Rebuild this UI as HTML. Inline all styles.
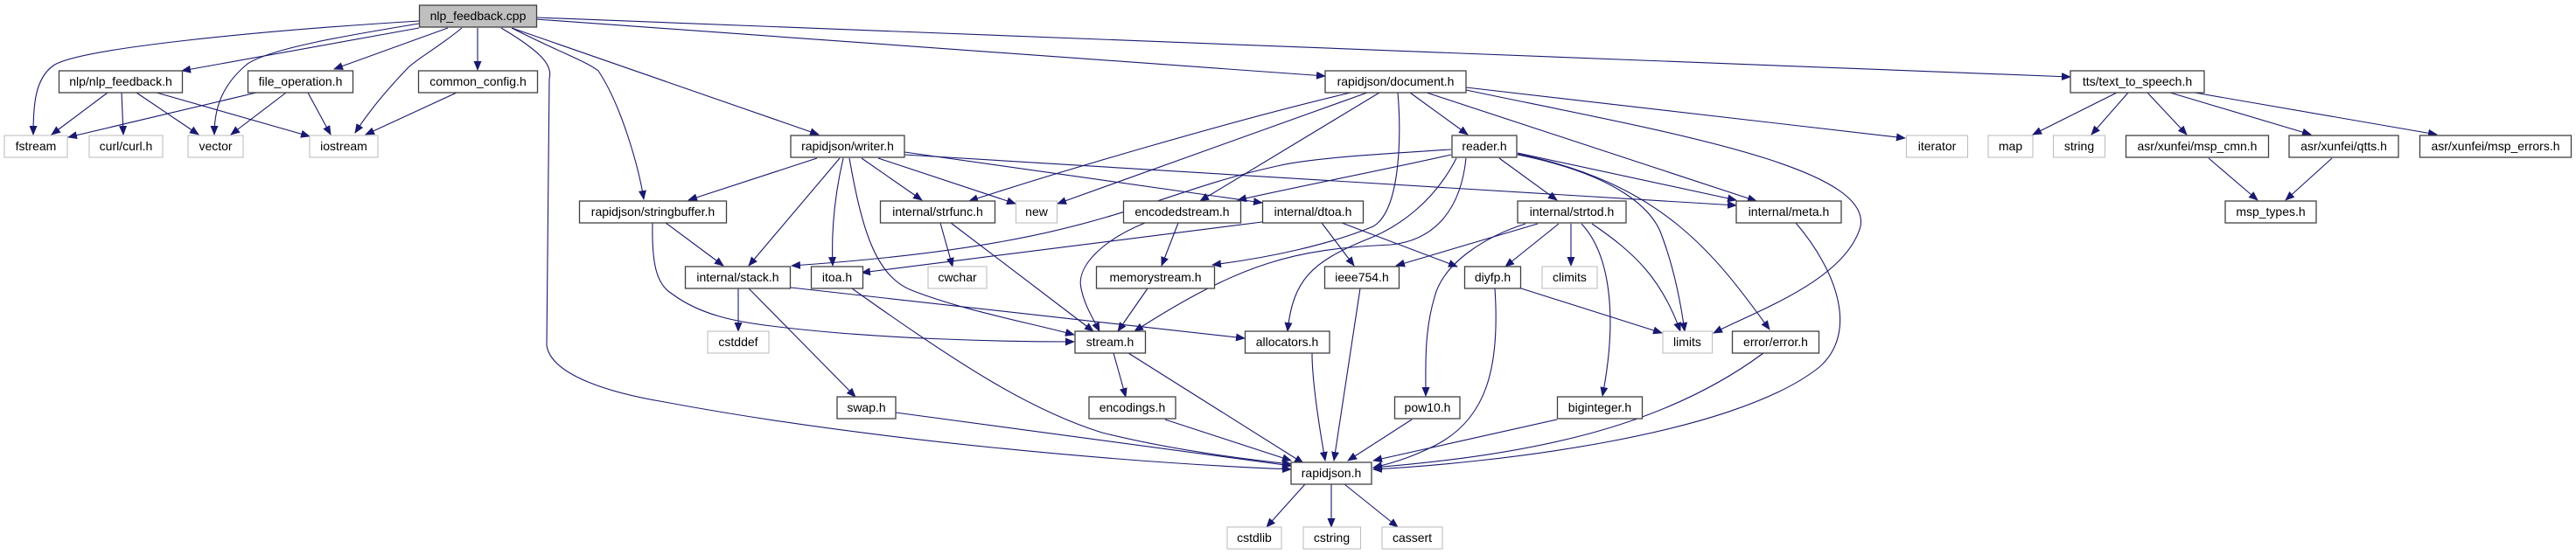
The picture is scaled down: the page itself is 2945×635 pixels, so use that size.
<!DOCTYPE html>
<html><head><meta charset="utf-8"><style>
html,body{margin:0;padding:0;background:#fff;}
svg{display:block;}
text{font-family:"Liberation Sans",sans-serif;font-size:14px;fill:#000;text-anchor:middle;}
.e{fill:none;stroke:#191970;stroke-width:1.1;marker-end:url(#a);}
.b{fill:#fff;stroke:#404040;stroke-width:1.3;}
.g{fill:#fff;stroke:#bfbfbf;stroke-width:1.1;}
</style></head><body>
<svg width="2945" height="635" viewBox="0 0 2945 635" xmlns="http://www.w3.org/2000/svg">
<defs><marker id="a" markerWidth="11" markerHeight="9" refX="10" refY="4.5" orient="auto" markerUnits="userSpaceOnUse"><path d="M0,0 L11,4.5 L0,9 z" fill="#191970"/></marker></defs>

<!-- edges from nlp_feedback.cpp -->
<path class="e" d="M479,24 C300,35 90,55 61,75 C40,90 38,120 38,154"/>
<path class="e" d="M479,32 L208,81"/>
<path class="e" d="M479,27 C400,40 310,55 283,73 C250,100 245,130 245,154"/>
<path class="e" d="M512,32 L382,79"/>
<path class="e" d="M528,32 C500,55 480,65 467,77 C440,105 420,130 406,152"/>
<path class="e" d="M546,32 L546,80"/>
<path class="e" d="M573,32 C620,60 632,75 628,90 L625,395 C630,430 700,450 760,460 C1000,505 1300,530 1476,537"/>
<path class="e" d="M585,32 C640,60 670,70 684,81 C710,120 730,190 736,228"/>
<path class="e" d="M585,32 L936,154"/>
<path class="e" d="M613,22 L1515,87"/>
<path class="e" d="M613,20 L2367,88"/>

<!-- nlp/nlp_feedback.h, file_operation.h, common_config.h -->
<path class="e" d="M123,106 L59,154"/>
<path class="e" d="M139,106 L141,154"/>
<path class="e" d="M156,106 L227,154"/>
<path class="e" d="M179,106 L354,156"/>
<path class="e" d="M293,106 L78,157"/>
<path class="e" d="M327,106 L264,154"/>
<path class="e" d="M352,106 L378,154"/>
<path class="e" d="M522,106 L418,154"/>

<!-- writer.h -->
<path class="e" d="M934,181 L787,229"/>
<path class="e" d="M960,181 L856,304"/>
<path class="e" d="M964,181 C955,220 950,260 952,304"/>
<path class="e" d="M971,181 C985,260 1000,315 1042,332 C1100,355 1180,370 1228,383"/>
<path class="e" d="M985,181 L1054,229"/>
<path class="e" d="M1004,181 L1161,233"/>
<path class="e" d="M1034,177 L1985,235"/>
<path class="e" d="M1034,174 L1443,232"/>

<!-- document.h -->
<path class="e" d="M1612,106 L1678,154"/>
<path class="e" d="M1631,106 L2008,230"/>
<path class="e" d="M1676,103 C1900,150 2140,190 2127,259 C2110,320 2010,355 1959,381"/>
<path class="e" d="M1676,100 L2178,158"/>
<path class="e" d="M1577,106 L1372,230"/>
<path class="e" d="M1563,106 L1209,233"/>
<path class="e" d="M1544,106 C1400,140 1200,200 1108,230"/>
<path class="e" d="M1598,106 C1602,150 1602,240 1570,259 C1520,280 1450,295 1386,303"/>

<!-- reader.h -->
<path class="e" d="M1714,181 L1780,229"/>
<path class="e" d="M1735,175 L1985,229"/>
<path class="e" d="M1735,177 C1850,200 1890,240 1900,270 C1915,310 1922,350 1926,379"/>
<path class="e" d="M1735,176 C1900,210 1960,290 2023,377"/>
<path class="e" d="M1659,171 C1600,175 1500,180 1460,190 C1300,225 1260,280 905,304"/>
<path class="e" d="M1659,177 C1580,195 1480,214 1415,229"/>
<path class="e" d="M1665,181 C1640,230 1600,260 1560,275 C1500,300 1478,320 1472,379"/>
<path class="e" d="M1676,181 C1670,240 1640,275 1590,280 C1480,285 1420,300 1297,379"/>

<!-- dtoa / strtod -->
<path class="e" d="M1511,255 L1548,304"/>
<path class="e" d="M1534,255 L1666,305"/>
<path class="e" d="M1443,254 L985,312"/>
<path class="e" d="M1758,256 L1596,304"/>
<path class="e" d="M1782,256 L1721,305"/>
<path class="e" d="M1796,256 L1796,304"/>
<path class="e" d="M1744,256 C1700,270 1650,300 1640,340 C1628,380 1630,420 1630,453"/>
<path class="e" d="M1808,256 C1840,290 1850,360 1832,453"/>
<path class="e" d="M1820,256 C1870,290 1900,320 1921,379"/>

<!-- to rapidjson.h -->
<path class="e" d="M2053,255 C2100,310 2125,380 2080,420 C1980,500 1700,530 1570,537"/>
<path class="e" d="M2016,404 C1900,490 1750,520 1570,535"/>
<path class="e" d="M1780,480 L1570,527"/>
<path class="e" d="M1709,330 C1715,420 1700,480 1640,510 C1620,520 1600,528 1570,535"/>
<path class="e" d="M1739,330 L1900,381"/>
<path class="e" d="M1614,480 L1541,527"/>
<path class="e" d="M1555,330 L1525,527"/>
<path class="e" d="M1500,404 C1500,430 1505,470 1515,527"/>
<path class="e" d="M1290,404 L1490,530"/>
<path class="e" d="M1273,404 L1287,454"/>
<path class="e" d="M1332,480 L1476,527"/>
<path class="e" d="M1024,472 L1476,533"/>
<path class="e" d="M974,330 C1100,420 1180,470 1260,495 C1340,515 1420,525 1476,531"/>

<!-- stack / stringbuffer / strfunc / encodedstream / memorystream -->
<path class="e" d="M844,330 L844,379"/>
<path class="e" d="M856,330 L978,454"/>
<path class="e" d="M904,329 L1423,387"/>
<path class="e" d="M761,255 L827,304"/>
<path class="e" d="M746,255 C745,300 750,325 768,336 C800,360 840,368 882,373 C1000,388 1150,391 1228,391"/>
<path class="e" d="M1075,255 L1089,305"/>
<path class="e" d="M1087,255 L1250,379"/>
<path class="e" d="M1309,255 C1260,275 1230,305 1236,330 C1240,350 1250,365 1257,379"/>
<path class="e" d="M1347,255 L1328,304"/>
<path class="e" d="M1312,330 L1278,379"/>

<!-- rapidjson.h children -->
<path class="e" d="M1492,554 L1448,603"/>
<path class="e" d="M1522,554 L1522,603"/>
<path class="e" d="M1537,554 L1598,603"/>

<!-- tts -->
<path class="e" d="M2420,106 L2324,154"/>
<path class="e" d="M2433,106 L2391,154"/>
<path class="e" d="M2455,106 L2500,154"/>
<path class="e" d="M2481,106 L2642,154"/>
<path class="e" d="M2509,106 L2786,154"/>
<path class="e" d="M2525,181 L2581,229"/>
<path class="e" d="M2666,181 L2613,229"/>

<!-- nodes -->
<rect x="479.5" y="6" width="134" height="25" fill="#bfbfbf" stroke="#404040" stroke-width="1.3"/><text x="546.5" y="23">nlp_feedback.cpp</text>

<rect class="b" x="67.5" y="81" width="141" height="25"/><text x="138" y="98">nlp/nlp_feedback.h</text>
<rect class="b" x="283.5" y="81" width="120" height="25"/><text x="343.5" y="98">file_operation.h</text>
<rect class="b" x="478.5" y="81" width="136" height="25"/><text x="546.5" y="98">common_config.h</text>
<rect class="b" x="1515" y="81" width="161" height="25"/><text x="1595.5" y="98">rapidjson/document.h</text>
<rect class="b" x="2367" y="81" width="153" height="25"/><text x="2443.5" y="98">tts/text_to_speech.h</text>

<rect class="g" x="5" y="155" width="72" height="25"/><text x="41" y="172">fstream</text>
<rect class="g" x="102" y="155" width="84" height="25"/><text x="144" y="172">curl/curl.h</text>
<rect class="g" x="215" y="155" width="63" height="25"/><text x="246.5" y="172">vector</text>
<rect class="g" x="354" y="155" width="78" height="25"/><text x="393" y="172">iostream</text>
<rect class="b" x="904" y="155" width="130" height="25"/><text x="969" y="172">rapidjson/writer.h</text>
<rect class="b" x="1660" y="155" width="74" height="25"/><text x="1697" y="172">reader.h</text>
<rect class="g" x="2179.5" y="155" width="70" height="25"/><text x="2214.5" y="172">iterator</text>
<rect class="g" x="2273" y="155" width="51" height="25"/><text x="2298.5" y="172">map</text>
<rect class="g" x="2347.5" y="155" width="59" height="25"/><text x="2377" y="172">string</text>
<rect class="b" x="2430.5" y="155" width="163" height="25"/><text x="2512" y="172">asr/xunfei/msp_cmn.h</text>
<rect class="b" x="2617" y="155" width="125" height="25"/><text x="2679.5" y="172">asr/xunfei/qtts.h</text>
<rect class="b" x="2766.5" y="155" width="173" height="25"/><text x="2853" y="172">asr/xunfei/msp_errors.h</text>

<rect class="b" x="662.5" y="230" width="168" height="25"/><text x="746.5" y="247">rapidjson/stringbuffer.h</text>
<rect class="b" x="1006.5" y="230" width="131" height="25"/><text x="1072" y="247">internal/strfunc.h</text>
<rect class="g" x="1161.5" y="230" width="47" height="25"/><text x="1185" y="247">new</text>
<rect class="b" x="1284.5" y="230" width="134" height="25"/><text x="1351.5" y="247">encodedstream.h</text>
<rect class="b" x="1443.5" y="230" width="115" height="25"/><text x="1501" y="247">internal/dtoa.h</text>
<rect class="b" x="1735" y="230" width="124" height="25"/><text x="1797" y="247">internal/strtod.h</text>
<rect class="b" x="1985" y="230" width="120" height="25"/><text x="2045" y="247">internal/meta.h</text>
<rect class="b" x="2544" y="230" width="104" height="25"/><text x="2596" y="247">msp_types.h</text>

<rect class="b" x="783.5" y="305" width="120" height="25"/><text x="843.5" y="322">internal/stack.h</text>
<rect class="b" x="927.5" y="305" width="59" height="25"/><text x="957" y="322">itoa.h</text>
<rect class="g" x="1061" y="305" width="67" height="25"/><text x="1094.5" y="322">cwchar</text>
<rect class="b" x="1253.5" y="305" width="135" height="25"/><text x="1321" y="322">memorystream.h</text>
<rect class="b" x="1514.5" y="305" width="85" height="25"/><text x="1557" y="322">ieee754.h</text>
<rect class="b" x="1674.5" y="305" width="64" height="25"/><text x="1706.5" y="322">diyfp.h</text>
<rect class="g" x="1763" y="305" width="63" height="25"/><text x="1794.5" y="322">climits</text>

<rect class="g" x="809" y="379" width="70" height="25"/><text x="844" y="396">cstddef</text>
<rect class="b" x="1229" y="379" width="80.5" height="25"/><text x="1269" y="396">stream.h</text>
<rect class="b" x="1423.5" y="379" width="96.5" height="25"/><text x="1471.5" y="396">allocators.h</text>
<rect class="g" x="1901" y="379" width="56.5" height="25"/><text x="1929" y="396">limits</text>
<rect class="b" x="1980.5" y="379" width="99" height="25"/><text x="2030" y="396">error/error.h</text>

<rect class="b" x="957" y="454" width="67" height="25"/><text x="990.5" y="471">swap.h</text>
<rect class="b" x="1245" y="454" width="99" height="25"/><text x="1294.5" y="471">encodings.h</text>
<rect class="b" x="1594.5" y="454" width="74.5" height="25"/><text x="1632" y="471">pow10.h</text>
<rect class="b" x="1780.5" y="454" width="97" height="25"/><text x="1829" y="471">biginteger.h</text>

<rect class="b" x="1476" y="529" width="92" height="25"/><text x="1522" y="546">rapidjson.h</text>

<rect class="g" x="1403" y="603" width="62" height="25"/><text x="1434" y="620">cstdlib</text>
<rect class="g" x="1490" y="603" width="65.5" height="25"/><text x="1522.5" y="620">cstring</text>
<rect class="g" x="1580" y="603" width="69" height="25"/><text x="1614.5" y="620">cassert</text>
</svg>
</body></html>
